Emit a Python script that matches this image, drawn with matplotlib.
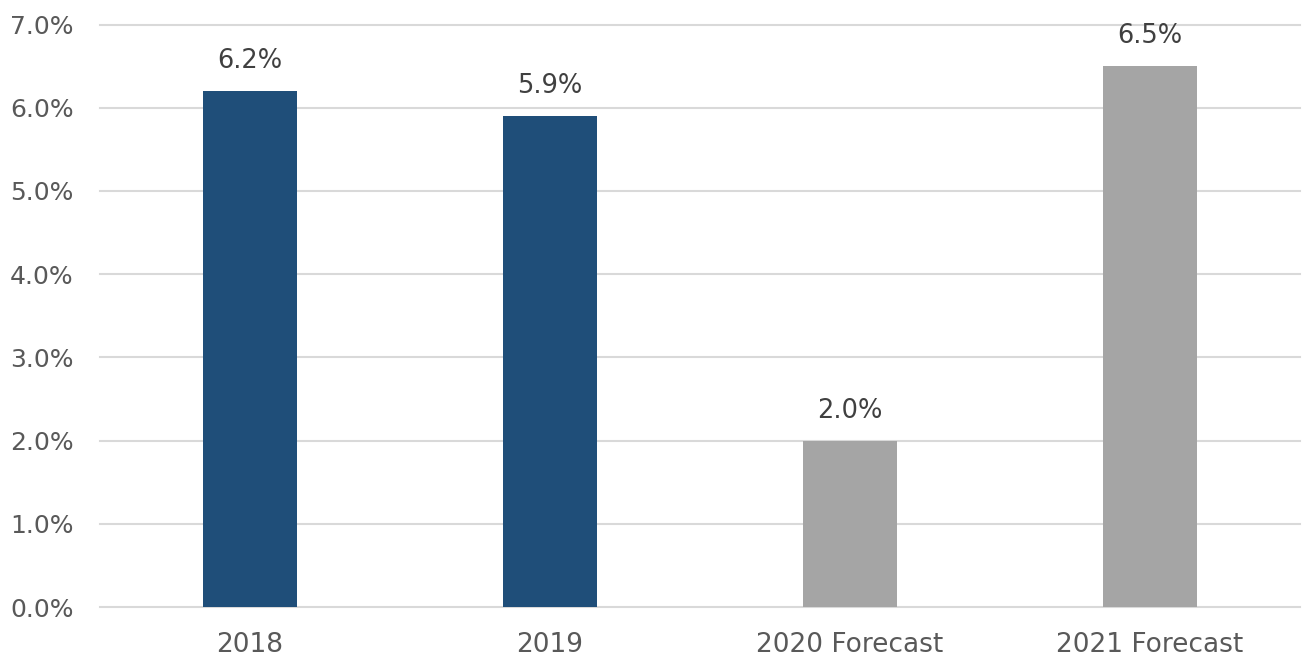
import matplotlib
matplotlib.use("Agg")
import matplotlib.pyplot as plt
import numpy as np

# chart data
categories = ["2018", "2019", "2020 Forecast", "2021 Forecast"]
values = [6.2, 5.9, 2.0, 6.5]
bar_colors = ["#1F4E79", "#1F4E79", "#A5A5A5", "#A5A5A5"]
y_ticks = [0, 1, 2, 3, 4, 5, 6, 7]

plt.rcParams['font.family'] = ['DejaVu Sans']
TEXT = "#595959"

fig = plt.figure(figsize=(13.07, 6.70), dpi=100)
ax = fig.add_axes([0.0765, 0.094, 0.918, 0.8694])

x = np.arange(len(categories))
ax.bar(x, values, width=0.315, color=bar_colors, zorder=3)

for xi, v in zip(x, values):
    ax.annotate(f"{v:.1f}%", (xi, v), xytext=(0, 12), textcoords="offset points",
                ha="center", va="bottom", fontsize=18.5, color="#404040")

ax.set_xlim(-0.5, len(categories) - 0.5)
ax.set_ylim(0, 7)
ax.set_yticks(y_ticks)
ax.set_yticklabels([f"{t:.1f}%" for t in y_ticks])
ax.set_xticks(x)
ax.set_xticklabels(categories)
ax.tick_params(axis="both", length=0, labelsize=18, labelcolor=TEXT)
ax.tick_params(axis="y", pad=19)
ax.tick_params(axis="x", pad=18)
for lab in ax.get_xticklabels():
    lab.set_fontsize(19)

ax.grid(axis="y", color="#D9D9D9", linewidth=1.5, zorder=0)
for gl in ax.get_ygridlines():
    gl.set_clip_on(False)
for s in ax.spines.values():
    s.set_visible(False)

fig.savefig("out.png", dpi=100)
plt.close()
